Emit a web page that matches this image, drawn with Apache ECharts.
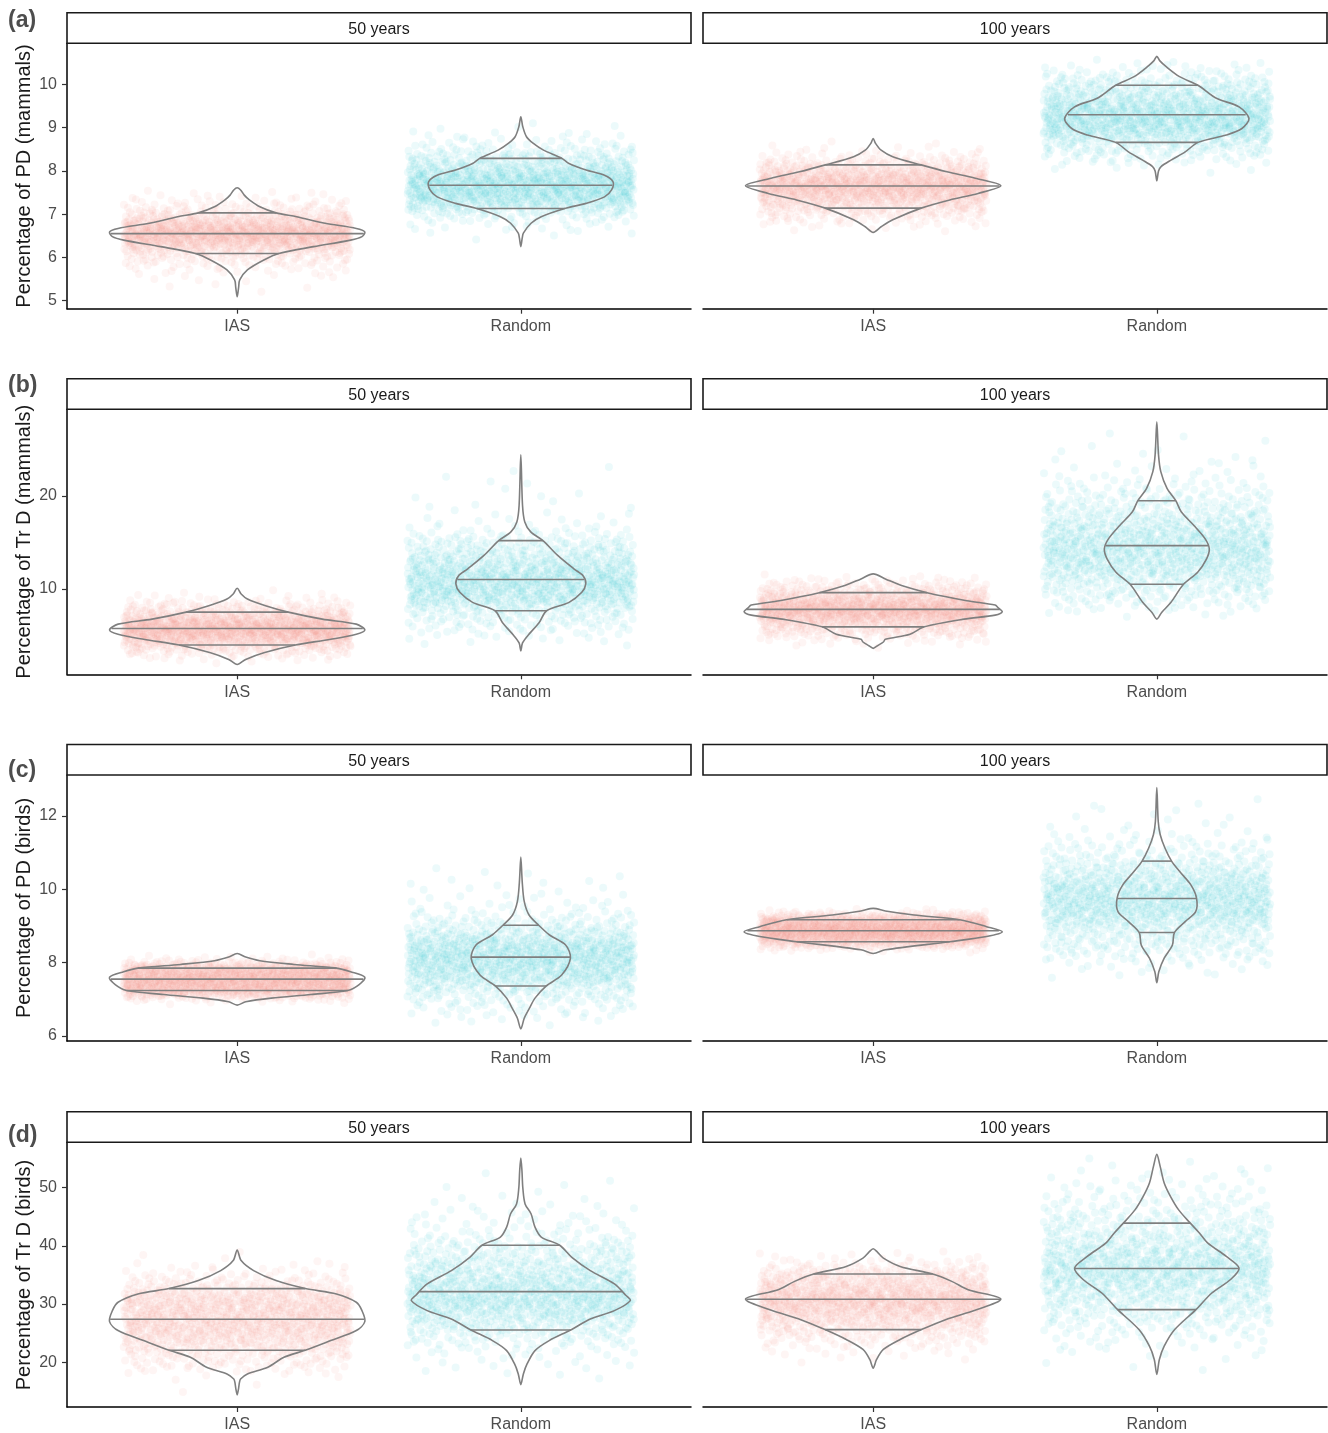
<!DOCTYPE html>
<html><head><meta charset="utf-8">
<script src="https://cdn.jsdelivr.net/npm/echarts@6/dist/echarts.min.js"></script>
<style>html,body{margin:0;padding:0;background:#fff}#c{width:1328px;height:1433px}</style>
</head><body><div id="c"></div><script>
// ---------- labels ----------
const categories = ['IAS', 'Random'];
const facets = ['50 years', '100 years'];
const rowTags = ['(a)', '(b)', '(c)', '(d)'];
const rowTitles = ['Percentage of PD (mammals)', 'Percentage of Tr D (mammals)', 'Percentage of PD (birds)', 'Percentage of Tr D (birds)'];
const yTicks = [[5, 6, 7, 8, 9, 10], [10, 20], [6, 8, 10, 12], [20, 30, 40, 50]];
const yLimits = [[4.815, 10.95], [0.83, 29.3], [5.86, 13.12], [12.28, 57.79]];
const pointsPerGroup = 1000;

// ---------- violin outlines: [value, half-width in category units] ----------
const a50IAS = [[5.09,0],[5.30,0.005],[5.48,0.009],[5.71,0.036],[5.94,0.094],[6.09,0.147],[6.25,0.27],[6.40,0.40],[6.48,0.44],[6.59,0.45],[6.67,0.42],[6.79,0.31],[6.94,0.21],[7.03,0.137],[7.17,0.08],[7.33,0.043],[7.44,0.025],[7.56,0.012],[7.61,0]];
const a50Rnd = [[6.25,0],[6.45,0.005],[6.56,0.009],[6.79,0.036],[6.94,0.072],[7.13,0.155],[7.25,0.23],[7.40,0.295],[7.56,0.32],[7.75,0.325],[7.90,0.295],[8.02,0.23],[8.17,0.17],[8.29,0.145],[8.48,0.08],[8.64,0.043],[8.79,0.02],[9.02,0.007],[9.25,0]];
const a100IAS = [[6.58,0],[6.71,0.028],[6.87,0.069],[7.14,0.169],[7.33,0.27],[7.48,0.37],[7.66,0.45],[7.83,0.36],[7.98,0.26],[8.14,0.169],[8.33,0.069],[8.48,0.028],[8.64,0.008],[8.75,0]];
const a100Rnd = [[7.77,0],[8.00,0.006],[8.10,0.015],[8.25,0.05],[8.44,0.10],[8.66,0.145],[8.83,0.245],[8.98,0.30],[9.21,0.325],[9.48,0.29],[9.68,0.21],[9.98,0.145],[10.18,0.08],[10.41,0.033],[10.55,0.01],[10.65,0]];
const b50IAS = [[1.89,0],[2.43,0.03],[3.15,0.094],[3.98,0.205],[4.59,0.33],[5.14,0.42],[5.60,0.45],[6.22,0.42],[6.76,0.30],[7.51,0.18],[8.20,0.10],[8.92,0.036],[9.46,0.014],[10.07,0]];
const b50Rnd = [[3.33,0],[4.2,0.006],[5.0,0.025],[6.4,0.065],[7.66,0.091],[8.56,0.17],[9.64,0.215],[10.54,0.229],[11.4,0.22],[12.16,0.187],[13.6,0.13],[15.19,0.078],[16.13,0.035],[17.2,0.014],[19.0,0.006],[24.4,0]];
const b100IAS = [[3.62,0],[3.9,0.015],[4.3,0.036],[4.59,0.043],[5.14,0.13],[5.93,0.18],[6.76,0.32],[7.19,0.43],[7.55,0.455],[8.0,0.44],[8.27,0.43],[8.74,0.33],[9.60,0.19],[10.36,0.10],[11.08,0.043],[11.62,0]];
const b100Rnd = [[6.76,0],[7.48,0.017],[8.56,0.05],[10.50,0.094],[11.80,0.144],[13.2,0.175],[14.32,0.185],[15.41,0.17],[16.85,0.13],[18.29,0.086],[19.48,0.067],[20.81,0.036],[22.6,0.014],[24.4,0.006],[27.95,0]];
const c50IAS = [[6.84,0],[6.93,0.03],[7.03,0.12],[7.13,0.26],[7.24,0.39],[7.40,0.43],[7.60,0.45],[7.75,0.40],[7.85,0.35],[7.95,0.20],[8.05,0.08],[8.15,0.03],[8.25,0]];
const c50Rnd = [[6.19,0],[6.48,0.012],[6.75,0.03],[7.03,0.05],[7.36,0.089],[7.66,0.144],[8.12,0.175],[8.48,0.158],[8.76,0.10],[9.02,0.063],[9.30,0.029],[9.67,0.012],[10.2,0.005],[10.88,0]];
const c100IAS = [[8.25,0],[8.35,0.043],[8.57,0.27],[8.71,0.40],[8.84,0.455],[8.98,0.40],[9.17,0.305],[9.30,0.144],[9.41,0.043],[9.48,0]];
const c100Rnd = [[7.45,0],[7.75,0.007],[8.12,0.026],[8.48,0.055],[8.82,0.062],[9.12,0.10],[9.39,0.137],[9.76,0.14],[10.12,0.12],[10.49,0.08],[10.77,0.052],[11.12,0.029],[11.49,0.012],[11.85,0.005],[12.78,0]];
const d50IAS = [[14.36,0],[15.5,0.005],[16.5,0.008],[17.1,0.012],[17.97,0.036],[19.11,0.108],[20.83,0.165],[22.03,0.24],[23.70,0.33],[25.42,0.42],[26.96,0.45],[28.85,0.44],[30.29,0.42],[31.72,0.35],[32.64,0.24],[34.01,0.137],[35.73,0.058],[37.45,0.014],[39.28,0]];
const d50Rnd = [[16.13,0],[17.97,0.009],[19.68,0.022],[21.98,0.05],[23.7,0.10],[25.53,0.176],[27.42,0.245],[28.85,0.33],[30.57,0.386],[31.5,0.37],[33.44,0.33],[35.73,0.245],[38.02,0.18],[40.09,0.137],[41.5,0.072],[43.2,0.05],[45.5,0.036],[47.2,0.015],[50.0,0.007],[52.9,0.004],[55.1,0]];
const d100IAS = [[18.96,0],[20.45,0.012],[22.17,0.036],[23.88,0.095],[25.59,0.17],[27.3,0.255],[29.0,0.364],[30.86,0.45],[32.45,0.335],[33.88,0.277],[35.14,0.21],[36.45,0.095],[37.88,0.036],[38.9,0.015],[39.48,0]];
const d100Rnd = [[17.88,0],[20.45,0.009],[22.73,0.026],[25.59,0.063],[29.02,0.138],[31.88,0.194],[34.2,0.26],[36.17,0.29],[38.17,0.245],[40.46,0.18],[42.2,0.15],[43.89,0.118],[46.17,0.077],[48.5,0.048],[50.8,0.026],[53.6,0.012],[55.72,0]];

// ---------- quartile lines (25%, 50%, 75%) ----------
const a50IASq = [6.09, 6.55, 7.03];   const a50Rndq = [7.13, 7.67, 8.29];
const a100IASq = [7.14, 7.65, 8.14];  const a100Rndq = [8.66, 9.30, 9.98];
const b50IASq = [3.98, 5.75, 7.51];   const b50Rndq = [7.66, 11.01, 15.19];
const b100IASq = [5.93, 7.80, 9.60];  const b100Rndq = [10.50, 14.65, 19.48];
const c50IASq = [7.24, 7.55, 7.85];   const c50Rndq = [7.36, 8.15, 9.02];
const c100IASq = [8.57, 8.87, 9.17];  const c100Rndq = [8.82, 9.75, 10.77];
const d50IASq = [22.03, 27.36, 32.64]; const d50Rndq = [25.53, 32.12, 40.09];
const d100IASq = [25.59, 30.8, 35.14]; const d100Rndq = [29.02, 36.1, 43.89];

// panel table: [row][col] -> [[IAS outline, IAS quartiles],[Random outline, Random quartiles]]
const panels = [
  [[[a50IAS, a50IASq], [a50Rnd, a50Rndq]], [[a100IAS, a100IASq], [a100Rnd, a100Rndq]]],
  [[[b50IAS, b50IASq], [b50Rnd, b50Rndq]], [[b100IAS, b100IASq], [b100Rnd, b100Rndq]]],
  [[[c50IAS, c50IASq], [c50Rnd, c50Rndq]], [[c100IAS, c100IASq], [c100Rnd, c100Rndq]]],
  [[[d50IAS, d50IASq], [d50Rnd, d50Rndq]], [[d100IAS, d100IASq], [d100Rnd, d100Rndq]]]
];

// ---------- layout / style ----------
const FONT = 'Liberation Sans, Arial, Helvetica, sans-serif';
const groupColors = ['#F8766D', '#00BFC4'];
const plotTop = [43.3, 409.3, 775, 1142.3];
const plotBottom = [308.7, 674.3, 1041, 1407.7];
const colLeft = [67, 703];
const panelW = 624;
const stripH = 30.5;
const tagY = [21, 386, 771, 1136];

function widthAt(prof, v) {
  for (let i = 0; i < prof.length - 1; i++) {
    const [y0, w0] = prof[i], [y1, w1] = prof[i + 1];
    if (v >= y0 && v <= y1) return w0 + (w1 - w0) * (v - y0) / (y1 - y0);
  }
  return 0;
}
function halton(i, b) { let f = 1, r = 0; while (i > 0) { f /= b; r += f * (i % b); i = Math.floor(i / b); } return r; }
// jittered cloud laid out along the distribution given by the read outline
function cloud(prof, center, start) {
  const cum = [0];
  for (let i = 0; i < prof.length - 1; i++) {
    cum.push(cum[i] + (prof[i][1] + prof[i + 1][1]) / 2 * (prof[i + 1][0] - prof[i][0]));
  }
  const total = cum[cum.length - 1];
  function inv(u) {
    const t = u * total;
    let i = 0;
    while (i < cum.length - 2 && cum[i + 1] < t) i++;
    const [y0, w0] = prof[i], [y1, w1] = prof[i + 1];
    const h = y1 - y0, a = t - cum[i];
    let s;
    if (Math.abs(w1 - w0) < 1e-9) s = w0 > 0 ? a / w0 : 0;
    else { const k = (w1 - w0) / (2 * h); s = (-w0 + Math.sqrt(Math.max(0, w0 * w0 + 4 * k * a))) / (2 * k); }
    return y0 + Math.min(Math.max(s, 0), h);
  }
  const pts = [];
  for (let n = 0; n < pointsPerGroup; n++) {
    const m = n + start;
    pts.push([center + (halton(m, 2) - 0.5) * 0.8, inv(halton(m, 3))]);
  }
  return pts;
}

const grids = [], xAxes = [], yAxes = [], series = [], graphics = [];
let gi = 0;
for (let r = 0; r < 4; r++) {
  for (let c = 0; c < 2; c++) {
    grids.push({ left: colLeft[c], width: panelW, top: plotTop[r], height: plotBottom[r] - plotTop[r], containLabel: false });
    xAxes.push({
      gridIndex: gi, type: 'value', min: 0.4, max: 2.6,
      axisLine: { show: true, lineStyle: { color: '#000', width: 1.5 } },
      axisTick: { show: true, length: 5, customValues: [1, 2], lineStyle: { color: '#333', width: 1.2 } },
      axisLabel: { customValues: [1, 2], formatter: v => categories[Math.round(v) - 1] || '', margin: 10, fontSize: 16, color: '#4d4d4d', fontFamily: FONT },
      splitLine: { show: false }
    });
    yAxes.push({
      gridIndex: gi, type: 'value', min: yLimits[r][0], max: yLimits[r][1], show: c === 0,
      axisLine: { show: true, lineStyle: { color: '#000', width: 1.5 } },
      axisTick: { show: true, length: 5, customValues: yTicks[r], lineStyle: { color: '#333', width: 1.2 } },
      axisLabel: { customValues: yTicks[r], margin: 10, fontSize: 16, color: '#4d4d4d', fontFamily: FONT },
      splitLine: { show: false }
    });
    const pan = panels[r][c];
    for (let k = 0; k < 2; k++) {
      const center = k + 1;
      const [prof, qs] = pan[k];
      series.push({
        type: 'scatter', xAxisIndex: gi, yAxisIndex: gi, silent: true, z: 1,
        symbol: 'circle', symbolSize: 8,
        itemStyle: { color: groupColors[k], opacity: 0.075 },
        data: cloud(prof, center, 17 + (gi * 2 + k) * 1013),
        animation: false
      });
      series.push({
        type: 'custom', xAxisIndex: gi, yAxisIndex: gi, silent: true, z: 5, clip: false,
        data: [[center, qs[1]]],
        renderItem: function (params, api) {
          const right = prof.map(p => api.coord([center + p[1], p[0]]));
          const left = prof.slice(1, -1).reverse().map(p => api.coord([center - p[1], p[0]]));
          const children = [{
            type: 'polygon', shape: { points: right.concat(left), smooth: 0.3 },
            style: { fill: 'none', stroke: '#7f7f7f', lineWidth: 1.6 }
          }];
          qs.forEach(q => {
            const w = widthAt(prof, q);
            const p1 = api.coord([center - w, q]), p2 = api.coord([center + w, q]);
            children.push({ type: 'line', shape: { x1: p1[0], y1: p1[1], x2: p2[0], y2: p2[1] }, style: { stroke: '#7f7f7f', lineWidth: 1.6 } });
          });
          return { type: 'group', children: children };
        },
        animation: false
      });
    }
    graphics.push({ type: 'rect', shape: { x: colLeft[c], y: plotTop[r] - stripH, width: panelW, height: stripH }, style: { fill: '#fff', stroke: '#1a1a1a', lineWidth: 1.6 }, z: 10 });
    graphics.push({ type: 'text', x: colLeft[c] + panelW / 2, y: plotTop[r] - stripH / 2 + 1.5, style: { text: facets[c], fontSize: 16, fontFamily: FONT, fill: '#1a1a1a', align: 'center', verticalAlign: 'middle', textAlign: 'center', textVerticalAlign: 'middle' }, z: 11 });
    gi++;
  }
  graphics.push({ type: 'text', x: 24, y: (plotTop[r] + plotBottom[r]) / 2, rotation: Math.PI / 2, style: { text: rowTitles[r], fontSize: 20, fontFamily: FONT, fill: '#1a1a1a', align: 'center', verticalAlign: 'middle', textAlign: 'center', textVerticalAlign: 'middle' }, z: 11 });
  graphics.push({ type: 'text', x: 8, y: tagY[r], style: { text: rowTags[r], fontSize: 23, fontWeight: 'bold', fontFamily: FONT, fill: '#4d4d4d', align: 'left', verticalAlign: 'middle', textAlign: 'left', textVerticalAlign: 'middle' }, z: 11 });
}

const chart = echarts.init(document.getElementById('c'), null, { renderer: 'canvas' });
chart.setOption({
  backgroundColor: '#fff',
  animation: false,
  grid: grids, xAxis: xAxes, yAxis: yAxes, series: series,
  graphic: { elements: graphics }
});
</script></body></html>
